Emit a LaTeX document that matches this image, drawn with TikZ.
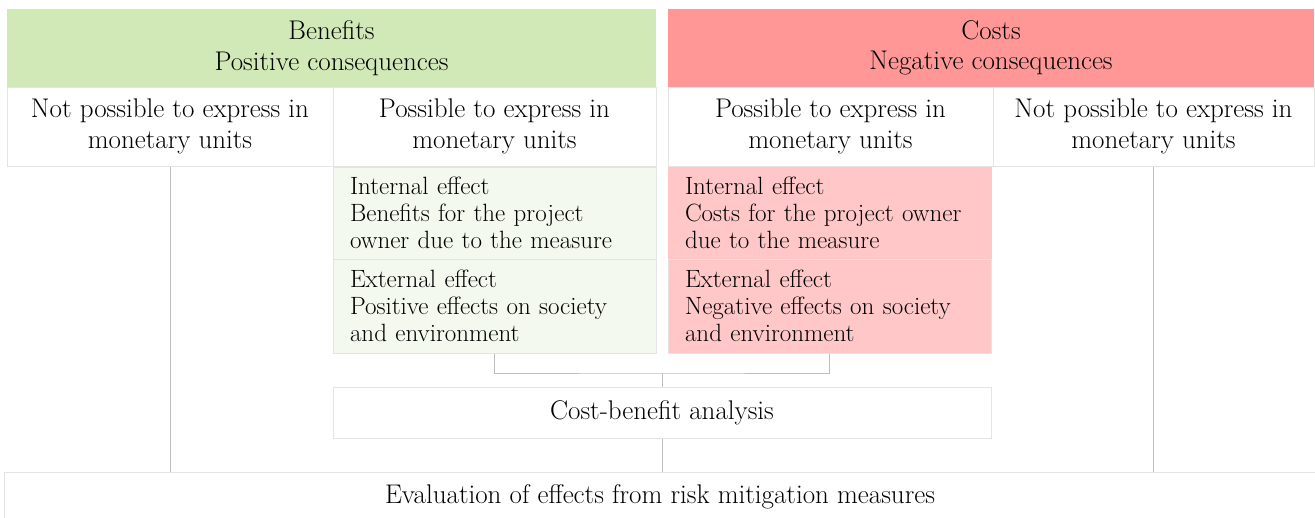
\documentclass[tikz,border=0pt]{standalone}
\usetikzlibrary{positioning}
\definecolor{hgreen}{HTML}{D0E9B6}
\definecolor{lgreen}{HTML}{F3F9EE}
\definecolor{hred}{HTML}{FF9797}
\definecolor{lred}{HTML}{FFC7C7}
\definecolor{bord}{HTML}{E4E4E4}
\definecolor{lin}{HTML}{BDBDBD}
\tikzset{
  box/.style={draw=bord, line width=1pt, inner sep=0pt, align=center, font=\fontsize{27}{30.5}\selectfont},
  effbox/.style={draw=bord, line width=1pt, inner sep=0pt, align=left, text width=289pt, font=\fontsize{25}{27}\selectfont},
  conn/.style={draw=lin, line width=1pt}
}
\begin{document}
\begin{tikzpicture}[x=1pt,y=-1pt]
\useasboundingbox[fill=white] (0,0) rectangle (1315,517);
% headers
\node[box, fill=hgreen, draw=none, minimum width=649pt, minimum height=78pt] (ben) at (331.5,48) {Benefits\\Positive consequences};
\node[box, fill=hred, draw=none, minimum width=646pt, minimum height=78pt] (cos) at (991,48) {Costs\\Negative consequences};
% sub headers
\node[box, fill=white, minimum width=326pt, minimum height=79pt] (nL) at (170,126.5) {Not possible to express in\\monetary units};
\node[box, fill=white, minimum width=323pt, minimum height=79pt] (pL) at (494.5,126.5) {Possible to express in\\monetary units};
\node[box, fill=white, minimum width=325pt, minimum height=79pt] (pR) at (830.5,126.5) {Possible to express in\\monetary units};
\node[box, fill=white, minimum width=321pt, minimum height=79pt] (nR) at (1153.5,126.5) {Not possible to express in\\monetary units};
% effects
\node[effbox, fill=lgreen, minimum width=323pt, minimum height=92pt] (gi) at (494.5,213) {Internal effect\\Benefits for the project\\owner due to the measure};
\node[effbox, fill=lgreen, minimum width=323pt, minimum height=94pt] (ge) at (494.5,306) {External effect\\Positive effects on society\\and environment};
\node[effbox, fill=lred, draw=lred, minimum width=323pt, minimum height=92pt] (ri) at (829.5,213) {Internal effect\\Costs for the project owner\\due to the measure};
\node[effbox, fill=lred, minimum width=323pt, minimum height=94pt] (re) at (829.5,306) {External effect\\Negative effects on society\\and environment};
% analysis
\node[box, fill=white, minimum width=658pt, minimum height=51pt] (cba) at (662,412.5) {Cost-benefit analysis};
\node[box, fill=white, minimum width=1311pt, minimum height=50pt] (ev) at (660,497) {Evaluation of effects from risk mitigation measures};
% connectors
\coordinate (j) at (662,373);
\draw[conn] (ge.south) |- (j) -| (re.south);
\draw[conn] (j) -- (cba.north);
\draw[conn] (cba.south) -- (cba.south |- ev.north);
\draw[conn] (nL.south) -- (nL.south |- ev.north);
\draw[conn] (nR.south) -- (nR.south |- ev.north);
\end{tikzpicture}
\end{document}
